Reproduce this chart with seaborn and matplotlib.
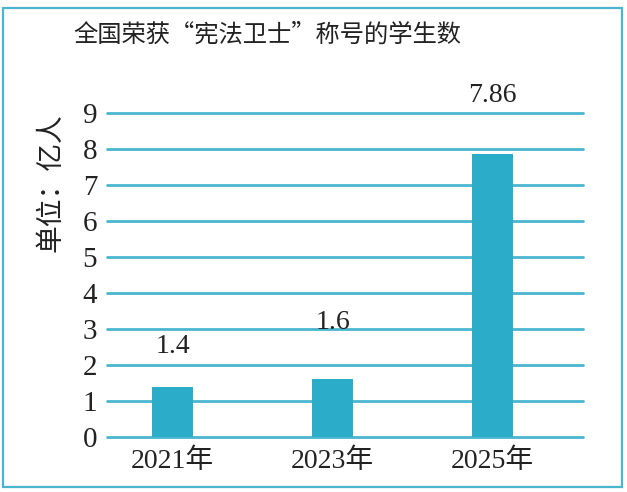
import matplotlib
matplotlib.use("Agg")
import matplotlib.pyplot as plt
import seaborn as sns
import pandas as pd
from matplotlib.patches import Rectangle

# data
years = ["2021年", "2023年", "2025年"]
students = [1.4, 1.6, 7.86]
value_labels = ["1.4", "1.6", "7.86"]
y_ticks = list(range(0, 10))

title = "全国荣获“宪法卫士”称号的学生数"
unit_label = "单位：亿人"

teal = "#2badc9"
grid_teal = "#4ab5ce"
ink = "#222222"

sns.set_theme(style="white")
plt.rcParams["font.family"] = ["Liberation Serif", "Noto Sans CJK SC", "DejaVu Sans"]

df = pd.DataFrame({"year": years, "value": students})

fig = plt.figure(figsize=(6.27, 4.92), dpi=100)
ax = fig.add_axes([107 / 627, 55 / 492, 476 / 627, 324 / 492])

sns.barplot(data=df, x="year", y="value", color=teal, saturation=1,
            width=0.256, linewidth=0, ax=ax, zorder=3)

ax.set_ylim(0, 9)
ax.set_xlim(-0.41, 2.566)
ax.set_yticks(y_ticks)
ax.set_yticklabels([str(t) for t in y_ticks])
ax.yaxis.grid(True, color=grid_teal, linewidth=2.0)
for gl in ax.get_ygridlines():
    gl.set_clip_on(False)
ax.set_axisbelow(True)
for s in ax.spines.values():
    s.set_visible(False)
ax.tick_params(axis="y", length=0, pad=7, labelsize=21, labelcolor=ink)
ax.tick_params(axis="x", length=0, pad=8, labelsize=20, labelcolor=ink)
ax.set_xlabel("")
ax.set_ylabel("")

# value labels sit at uneven heights above the bars in the original
label_offsets = [29, 41, 42.5]
for p, txt, off in zip(ax.patches, value_labels, label_offsets):
    ax.annotate(txt, (p.get_x() + p.get_width() / 2, p.get_height()),
                xytext=(0, off), textcoords="offset points",
                ha="center", va="center", fontsize=20, color=ink,
                annotation_clip=False)

fig.text(267 / 627, 1 - 35 / 492, title, ha="center", va="center",
         fontsize=17.5, color=ink, fontweight="medium",
         family=["Noto Sans CJK SC", "DejaVu Sans"])
fig.text(50 / 627, 1 - 183 / 492, unit_label, ha="center", va="center",
         rotation=90, fontsize=20, color=ink,
         family=["Noto Sans CJK SC", "DejaVu Sans"])

# frame around the whole chart
fig.patches.append(Rectangle((3 / 627, 1 - 487 / 492), 619 / 627, 479 / 492,
                             transform=fig.transFigure, fill=False,
                             edgecolor=grid_teal, linewidth=1.6))

fig.savefig("out.png", dpi=100)
